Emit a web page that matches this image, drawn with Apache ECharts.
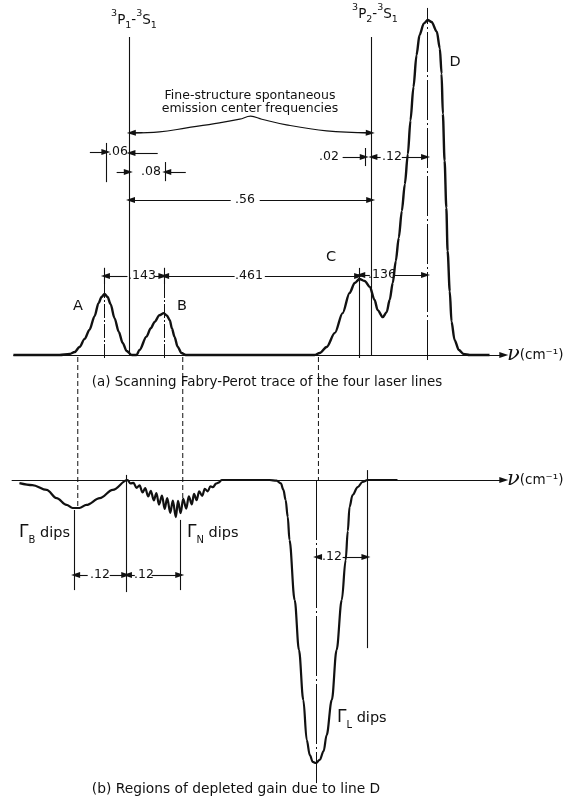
<!DOCTYPE html>
<html><head><meta charset="utf-8">
<script src="https://cdn.jsdelivr.net/npm/echarts@6/dist/echarts.min.js"></script>
<style>html,body{margin:0;padding:0;background:#fff}#c{width:566px;height:797px}</style>
</head><body><div id="c"></div>
<script>
// ---------------- DATA (frequency offset from 3P1-3S1 in cm^-1) ----------------
// (a) Scanning Fabry-Perot trace: frequency and relative intensity
const traceNu = [-0.269,-0.162,-0.139,-0.127,-0.116,-0.104,-0.093,-0.081,-0.072,-0.065,-0.058,-0.051,-0.044,-0.035,-0.025,-0.016,-0.007,0.005,0.016,0.023,0.039,0.049,0.058,0.069,0.079,0.086,0.093,0.098,0.104,0.111,0.120,0.130,0.394,0.428,0.440,0.456,0.475,0.493,0.509,0.521,0.532,0.544,0.556,0.567,0.574,0.586,0.595,0.602,0.609,0.616,0.623,0.630,0.637,0.644,0.650,0.657,0.664,0.671,0.681,0.690,0.699,0.711,0.718,0.722,0.725,0.729,0.733,0.736,0.741,0.745,0.752,0.762,0.773,0.787,0.833];
const traceIntensity = [0,0,0.003,0.009,0.024,0.048,0.075,0.116,0.155,0.173,0.182,0.173,0.152,0.110,0.069,0.036,0.012,0,0,0.015,0.055,0.080,0.099,0.119,0.125,0.118,0.104,0.079,0.054,0.025,0.006,0,0,0,0.006,0.024,0.066,0.125,0.185,0.215,0.227,0.221,0.203,0.164,0.134,0.113,0.128,0.165,0.215,0.280,0.350,0.430,0.510,0.600,0.700,0.800,0.895,0.955,0.990,1.000,0.994,0.965,0.915,0.840,0.720,0.580,0.440,0.310,0.190,0.100,0.045,0.015,0.003,0,0];
// (b) depleted gain: frequency and relative gain change
const gainNu = [-0.255,-0.225,-0.192,-0.169,-0.146,-0.132,-0.116,-0.100,-0.069,-0.039,-0.005,0.002,0.009,0.016,0.023,0.030,0.036,0.043,0.049,0.056,0.062,0.068,0.075,0.081,0.087,0.094,0.100,0.107,0.112,0.118,0.124,0.131,0.137,0.144,0.149,0.155,0.161,0.168,0.174,0.181,0.187,0.193,0.200,0.206,0.213,0.324,0.340,0.350,0.356,0.361,0.366,0.370,0.382,0.392,0.402,0.410,0.417,0.424,0.431,0.440,0.449,0.456,0.468,0.479,0.491,0.500,0.505,0.509,0.516,0.528,0.539,0.551,0.620];
const gainChange = [-0.011,-0.018,-0.035,-0.064,-0.088,-0.099,-0.099,-0.088,-0.064,-0.035,0,-0.012,-0.010,-0.028,-0.019,-0.044,-0.029,-0.058,-0.038,-0.072,-0.046,-0.087,-0.055,-0.102,-0.064,-0.116,-0.073,-0.131,-0.074,-0.117,-0.067,-0.101,-0.058,-0.086,-0.049,-0.071,-0.040,-0.056,-0.031,-0.040,-0.022,-0.025,-0.013,-0.009,0,0,-0.002,-0.012,-0.035,-0.070,-0.130,-0.212,-0.424,-0.601,-0.777,-0.919,-0.972,-0.996,-1.000,-0.989,-0.958,-0.901,-0.777,-0.601,-0.424,-0.283,-0.180,-0.095,-0.053,-0.025,-0.007,0,0];
// brace over the fine-structure separation
const braceNu = [0.007,0.069,0.132,0.208,0.255,0.280,0.306,0.363,0.456,0.556];
const braceLevel = [0.663,0.666,0.678,0.693,0.704,0.713,0.704,0.687,0.669,0.663];
// line centres and labels
const lineNames = ['A','B','C','D'];
const lineCenters = [-0.058,0.079,0.532,0.688];
const transitionNu = [0,0.56];
const spacingLabels = ['.06','.08','.56','.02','.12','.143','.461','.136'];
const dipSpacingLabels = ['.12','.12','.12'];

// ---------------- LAYOUT ----------------
const X_MIN = -0.3, X_MAX = 1.01;
const FONT = '"DejaVu Sans", sans-serif';
const INK = '#111';

function seg(x1,y1,x2,y2,head){
  return [{coord:[x1,y1],symbol:'none'},{coord:[x2,y2],symbol: head ? 'triangle' : 'none'}];
}
function anno(g, lines, style){
  return {type:'line', xAxisIndex:g, yAxisIndex:g, data:[], symbol:'none', silent:true, animation:false,
    markLine:{silent:true, animation:false, symbol:['none','none'], symbolSize:[6,9], label:{show:false},
      emphasis:{disabled:true}, lineStyle:Object.assign({color:INK,width:1.1,type:'solid'},style), data:lines}};
}

const topThin = [
  seg(transitionNu[0],0,transitionNu[0],0.949), seg(transitionNu[1],0,transitionNu[1],0.949),
  seg(lineCenters[2],-0.009,lineCenters[2],0.260),
  seg(-0.053,0.516,-0.053,0.633), seg(0.083,0.519,0.083,0.576), seg(0.546,0.564,0.546,0.618),
  seg(lineCenters[0],0.212,lineCenters[0],0.260), seg(lineCenters[1],0.212,lineCenters[1],0.260),
  seg(-0.092,0.606,-0.055,0.606,1), seg(0.065,0.603,0.003,0.603,1),
  seg(-0.030,0.546,-0.003,0.546,1), seg(0.130,0.546,0.086,0.546,1),
  seg(0.493,0.591,0.543,0.591,1), seg(0.581,0.591,0.563,0.591,1), seg(0.630,0.591,0.685,0.591,1),
  seg(0.234,0.463,0.002,0.463,1), seg(0.301,0.463,0.558,0.463,1),
  seg(0.030,0.664,0.004,0.663,1), seg(0.530,0.664,0.557,0.663,1),
  seg(-0.005,0.236,-0.056,0.236,1), seg(0.058,0.236,0.077,0.236,1),
  seg(0.243,0.236,0.081,0.236,1), seg(0.313,0.236,0.530,0.236,1),
  seg(0.556,0.239,0.535,0.239,1), seg(0.611,0.239,0.685,0.239,1),
  seg(-0.269,0,0.866,0,1)
];
const topDashDot = [
  seg(lineCenters[0],-0.009,lineCenters[0],0.26), seg(lineCenters[1],-0.009,lineCenters[1],0.26)
];
const topDLine = [ seg(lineCenters[3],-0.015,lineCenters[3],1.036) ];
const botThin = [
  seg(-0.127,-0.106,-0.127,-0.389), seg(-0.007,0.018,-0.007,-0.396), seg(0.118,-0.141,0.118,-0.389),
  seg(0.549,0.035,0.549,-0.594),
  seg(-0.097,-0.336,-0.125,-0.336,1), seg(-0.046,-0.336,-0.009,-0.336,1),
  seg(0.012,-0.336,-0.005,-0.336,1), seg(0.051,-0.336,0.116,-0.336,1),
  seg(0.444,-0.272,0.435,-0.272,1), seg(0.493,-0.272,0.547,-0.272,1),
  seg(-0.273,0,0.866,0,1)
];
const botLong = [ seg(0.433,0,0.433,-1.071) ];

const chart = echarts.init(document.getElementById('c'), null, {renderer:'canvas'});
const option = {
  backgroundColor:'#fff', animation:false,
  grid:[{left:0,right:0,top:0,bottom:0},{left:0,right:0,top:0,bottom:0}],
  xAxis:[{gridIndex:0,type:'value',min:X_MIN,max:X_MAX,show:false},{gridIndex:1,type:'value',min:X_MIN,max:X_MAX,show:false}],
  yAxis:[{gridIndex:0,type:'value',min:-1.3194,max:1.0597,show:false},{gridIndex:1,type:'value',min:-1.1201,max:1.6961,show:false}],
  series:[
    {type:'line', xAxisIndex:0, yAxisIndex:0, data: traceNu.map((v,i)=>[v,traceIntensity[i]]), symbol:'none', smooth:0.3, smoothMonotone:'x',
     lineStyle:{color:INK,width:2.4}, silent:true},
    {type:'line', xAxisIndex:1, yAxisIndex:1, data: gainNu.map((v,i)=>[v,gainChange[i]]), symbol:'none', smooth:0.35, smoothMonotone:'x',
     lineStyle:{color:INK,width:2.2}, silent:true},
    {type:'line', xAxisIndex:0, yAxisIndex:0, data: braceNu.map((v,i)=>[v,braceLevel[i]]), symbol:'none', smooth:0.4,
     lineStyle:{color:INK,width:1.1}, silent:true},
    anno(0, topThin, {}),
    anno(0, topDashDot, {type:[14,2,2,2], width:1}),
    anno(0, topDLine, {type:[40,3,2,3], width:1}),
    anno(1, botThin, {}),
    anno(1, botLong, {type:[60,3,2,3], width:1})
  ]
};
chart.setOption(option);

function t(x,y,text,size,extra){
  return {type:'text', x:x, y:y, silent:true, z:100,
    style:Object.assign({text:text, font: size+'px '+FONT, fill:INK, align:'center', verticalAlign:'middle', textAlign:'center', textVerticalAlign:'middle'}, extra||{})};
}
const richBase = {
  b:{fontSize:13.5, fontFamily:FONT, lineHeight:22, color:INK},
  sp:{fontSize:9.5, fontFamily:FONT, lineHeight:10, verticalAlign:'top', color:INK},
  sb:{fontSize:9.5, fontFamily:FONT, lineHeight:10, verticalAlign:'bottom', color:INK},
  g:{fontSize:17, fontFamily:FONT, lineHeight:24, color:INK},
  d:{fontSize:14.5, fontFamily:FONT, lineHeight:24, color:INK},
  gs:{fontSize:10, fontFamily:FONT, lineHeight:10, verticalAlign:'bottom', color:INK},
  v:{fontSize:21, fontFamily:'"DejaVu Serif", serif', fontStyle:'italic', lineHeight:24, color:INK},
  u:{fontSize:13.5, fontFamily:FONT, lineHeight:24, color:INK}
};
function r(x,y,text,align){
  return {type:'text', x:x, y:y, silent:true, z:100,
    style:{text:text, rich:richBase, align:align||'center', verticalAlign:'middle', textAlign:align||'center', textVerticalAlign:'middle', fill:INK}};
}
const P = (g,xy)=>chart.convertToPixel({gridIndex:g}, xy);
function connector(nu, topVal, botVal){
  const a = P(0,[nu,topVal]), b = P(1,[nu,botVal]);
  return {type:'line', silent:true, shape:{x1:a[0],y1:a[1],x2:b[0],y2:b[1]}, style:{stroke:INK, lineWidth:1, lineDash:[5,3]}};
}
const graphics = [
  t(118,152,spacingLabels[0],12.5), t(151,172,spacingLabels[1],12.5), t(245,200,spacingLabels[2],12.5),
  t(329,157,spacingLabels[3],12.5), t(392,157,spacingLabels[4],12.5),
  t(142,276,spacingLabels[5],12.5), t(249,276,spacingLabels[6],12.5), t(382,275,spacingLabels[7],12.5),
  t(250,96,'Fine-structure spontaneous',12.5), t(250,109,'emission center frequencies',12.5),
  t(267,383,'(a) Scanning Fabry-Perot trace of the four laser lines',13.4),
  t(236,789,'(b) Regions of depleted gain due to line D',13.8),
  t(78,306,lineNames[0],14.5), t(182,306,lineNames[1],14.5), t(331,257,lineNames[2],14.5), t(455,62,lineNames[3],14.5),
  r(134,20,'{sp|3}{b|P}{sb|1}{b|-}{sp|3}{b|S}{sb|1}'),
  r(375,14,'{sp|3}{b|P}{sb|2}{b|-}{sp|3}{b|S}{sb|1}'),
  r(507,355,'{v|ν}{u|(cm⁻¹)}','left'), r(507,480,'{v|ν}{u|(cm⁻¹)}','left'),
  r(19,533,'{g|Γ}{gs|B}{d| dips}','left'), r(187,533,'{g|Γ}{gs|N}{d| dips}','left'), r(337,718,'{g|Γ}{gs|L}{d| dips}','left'),
  t(100,575,dipSpacingLabels[0],12.5), t(144,575,dipSpacingLabels[1],12.5), t(332,557,dipSpacingLabels[2],12.5),
  connector(-0.12,-0.006,-0.099), connector(0.123,-0.006,-0.081), connector(0.437,-0.006,0)
];
chart.setOption({graphic: graphics});
</script></body></html>
